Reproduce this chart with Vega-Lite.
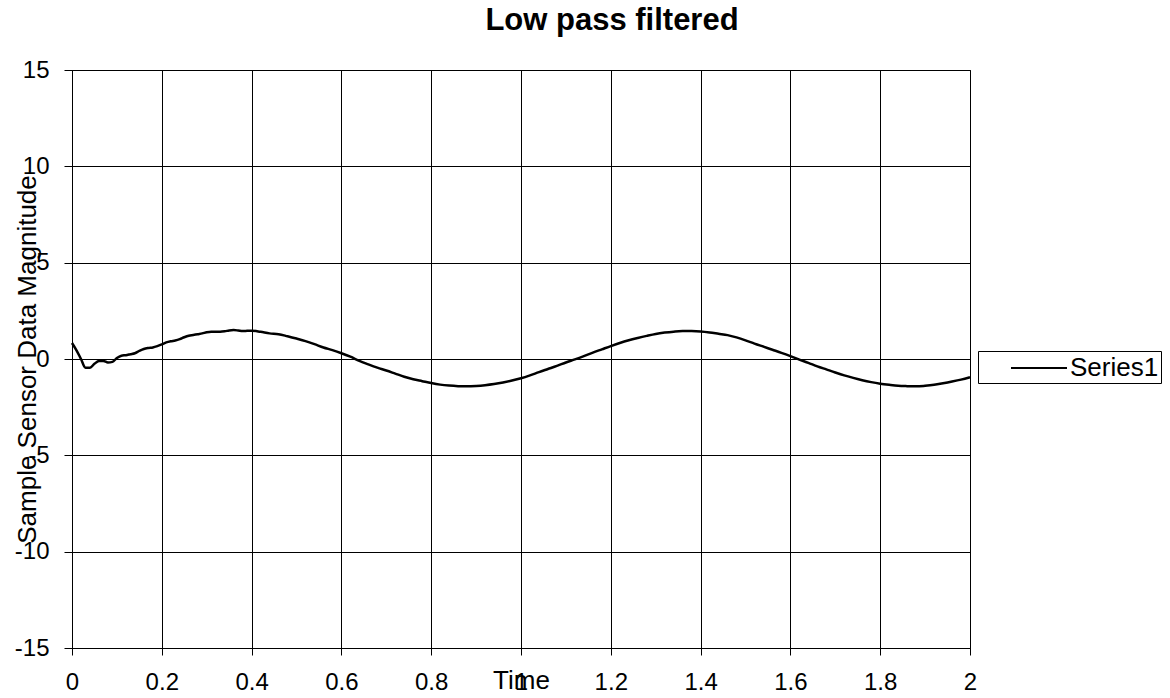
{
  "$schema": "https://vega.github.io/schema/vega-lite/v6.json",
  "width": 898,
  "height": 578,
  "autosize": {"type": "none"},
  "padding": {"left": 72, "top": 70, "right": 200, "bottom": 50},
  "background": "white",
  "title": {
    "text": "Low pass filtered",
    "font": "Liberation Sans",
    "fontSize": 31,
    "fontWeight": "bold",
    "color": "black",
    "anchor": "middle",
    "dx": 91,
    "offset": 21
  },
  "config": {
    "font": "Liberation Sans",
    "view": {"stroke": "black", "strokeWidth": 1},
    "axis": {
      "labelFont": "Liberation Sans",
      "labelFontSize": 24,
      "labelColor": "black",
      "titleFont": "Liberation Sans",
      "titleFontSize": 26,
      "titleFontWeight": "normal",
      "titleColor": "black",
      "domainColor": "black",
      "tickColor": "black",
      "gridColor": "black",
      "gridOpacity": 1,
      "gridWidth": 1
    }
  },
  "data": {
    "values": [
      {"t": 0, "v": 0.83}, {"t": 0.01, "v": 0.45}, {"t": 0.02, "v": 0.0}, {"t": 0.03, "v": -0.45},
      {"t": 0.04, "v": -0.45}, {"t": 0.05, "v": -0.25}, {"t": 0.06, "v": -0.1}, {"t": 0.07, "v": -0.1},
      {"t": 0.08, "v": -0.18}, {"t": 0.09, "v": -0.15}, {"t": 0.1, "v": 0.05}, {"t": 0.11, "v": 0.17},
      {"t": 0.12, "v": 0.2}, {"t": 0.13, "v": 0.25}, {"t": 0.14, "v": 0.3}, {"t": 0.15, "v": 0.42},
      {"t": 0.16, "v": 0.52}, {"t": 0.17, "v": 0.57}, {"t": 0.18, "v": 0.6}, {"t": 0.19, "v": 0.67},
      {"t": 0.2, "v": 0.76}, {"t": 0.21, "v": 0.86}, {"t": 0.22, "v": 0.92}, {"t": 0.23, "v": 0.96},
      {"t": 0.24, "v": 1.03}, {"t": 0.25, "v": 1.13}, {"t": 0.26, "v": 1.21}, {"t": 0.27, "v": 1.25},
      {"t": 0.28, "v": 1.29}, {"t": 0.29, "v": 1.33}, {"t": 0.3, "v": 1.39}, {"t": 0.31, "v": 1.42},
      {"t": 0.32, "v": 1.42}, {"t": 0.33, "v": 1.42}, {"t": 0.34, "v": 1.44}, {"t": 0.35, "v": 1.48},
      {"t": 0.36, "v": 1.5}, {"t": 0.37, "v": 1.48}, {"t": 0.38, "v": 1.45}, {"t": 0.39, "v": 1.46},
      {"t": 0.4, "v": 1.47}, {"t": 0.42, "v": 1.41}, {"t": 0.44, "v": 1.33}, {"t": 0.46, "v": 1.29},
      {"t": 0.48, "v": 1.18}, {"t": 0.5, "v": 1.06}, {"t": 0.52, "v": 0.93}, {"t": 0.54, "v": 0.77},
      {"t": 0.56, "v": 0.6}, {"t": 0.58, "v": 0.46}, {"t": 0.6, "v": 0.3}, {"t": 0.62, "v": 0.12},
      {"t": 0.64, "v": -0.1}, {"t": 0.66, "v": -0.28}, {"t": 0.68, "v": -0.45}, {"t": 0.7, "v": -0.6},
      {"t": 0.72, "v": -0.76}, {"t": 0.74, "v": -0.92}, {"t": 0.76, "v": -1.05}, {"t": 0.78, "v": -1.15},
      {"t": 0.8, "v": -1.25}, {"t": 0.82, "v": -1.33}, {"t": 0.84, "v": -1.38}, {"t": 0.86, "v": -1.41},
      {"t": 0.88, "v": -1.42}, {"t": 0.9, "v": -1.4}, {"t": 0.92, "v": -1.36}, {"t": 0.94, "v": -1.3},
      {"t": 0.96, "v": -1.22}, {"t": 0.98, "v": -1.12}, {"t": 1.0, "v": -1.0}, {"t": 1.02, "v": -0.85},
      {"t": 1.04, "v": -0.68}, {"t": 1.06, "v": -0.52}, {"t": 1.08, "v": -0.36}, {"t": 1.1, "v": -0.18},
      {"t": 1.12, "v": -0.02}, {"t": 1.14, "v": 0.15}, {"t": 1.16, "v": 0.33}, {"t": 1.18, "v": 0.5},
      {"t": 1.2, "v": 0.67}, {"t": 1.22, "v": 0.83}, {"t": 1.24, "v": 0.97}, {"t": 1.26, "v": 1.09},
      {"t": 1.28, "v": 1.2}, {"t": 1.3, "v": 1.3}, {"t": 1.32, "v": 1.37}, {"t": 1.34, "v": 1.42},
      {"t": 1.36, "v": 1.45}, {"t": 1.38, "v": 1.45}, {"t": 1.4, "v": 1.43}, {"t": 1.42, "v": 1.38},
      {"t": 1.44, "v": 1.31}, {"t": 1.46, "v": 1.24}, {"t": 1.48, "v": 1.12}, {"t": 1.5, "v": 0.97},
      {"t": 1.52, "v": 0.8}, {"t": 1.54, "v": 0.64}, {"t": 1.56, "v": 0.48}, {"t": 1.58, "v": 0.32},
      {"t": 1.6, "v": 0.15}, {"t": 1.62, "v": -0.03}, {"t": 1.64, "v": -0.2}, {"t": 1.66, "v": -0.38},
      {"t": 1.68, "v": -0.54}, {"t": 1.7, "v": -0.7}, {"t": 1.72, "v": -0.85}, {"t": 1.74, "v": -0.98},
      {"t": 1.76, "v": -1.1}, {"t": 1.78, "v": -1.2}, {"t": 1.8, "v": -1.28}, {"t": 1.82, "v": -1.34},
      {"t": 1.84, "v": -1.39}, {"t": 1.86, "v": -1.41}, {"t": 1.88, "v": -1.42}, {"t": 1.9, "v": -1.39},
      {"t": 1.92, "v": -1.34}, {"t": 1.94, "v": -1.26}, {"t": 1.96, "v": -1.17}, {"t": 1.98, "v": -1.07},
      {"t": 2.0, "v": -0.95}
    ]
  },
  "mark": {"type": "line", "strokeWidth": 2.5, "interpolate": "monotone"},
  "encoding": {
    "x": {
      "field": "t",
      "type": "quantitative",
      "scale": {"domain": [0, 2], "nice": false, "zero": false},
      "axis": {
        "title": "Time",
        "values": [0, 0.2, 0.4, 0.6, 0.8, 1, 1.2, 1.4, 1.6, 1.8, 2],
        "labelExpr": "'' + datum.value",
        "tickSize": 7,
        "labelPadding": 15,
        "labelFlush": false,
        "titleX": 449,
        "titleY": 32,
        "titleAnchor": null,
        "titleAlign": "center",
        "titleBaseline": "middle"
      }
    },
    "y": {
      "field": "v",
      "type": "quantitative",
      "scale": {"domain": [-15, 15], "nice": false},
      "axis": {
        "title": "Sample Sensor Data Magnitude",
        "values": [-15, -10, -5, 0, 5, 10, 15],
        "labelExpr": "'' + datum.value",
        "tickSize": 8,
        "labelPadding": 15,
        "labelFlush": false,
        "titleX": -45,
        "titleY": 289,
        "titleAngle": 270,
        "titleAlign": "center",
        "titleBaseline": "middle"
      }
    },
    "color": {
      "datum": "Series1",
      "scale": {"range": ["black"]},
      "legend": {
        "title": null,
        "orient": "none",
        "legendX": 906,
        "legendY": 281,
        "symbolType": "M-2,0H2",
        "symbolSize": 784,
        "symbolStrokeWidth": 2,
        "symbolOffset": 44,
        "labelFont": "Liberation Sans",
        "labelFontSize": 26,
        "labelColor": "black",
        "labelOffset": 16,
        "strokeColor": "black",
        "fillColor": "white",
        "padding": 2
      }
    }
  }
}
